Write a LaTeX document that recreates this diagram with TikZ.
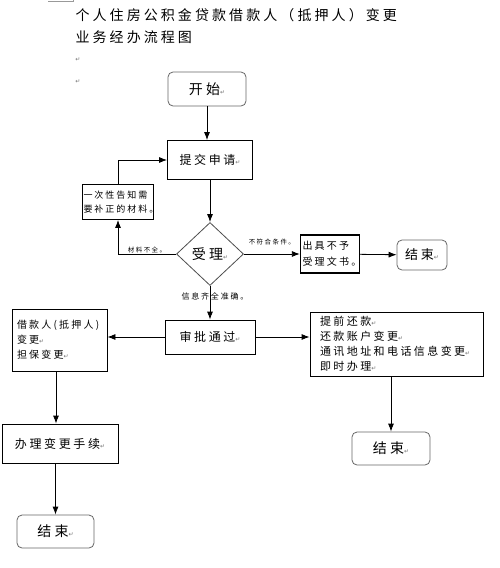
\documentclass[tikz,border=0pt]{standalone}
\usepackage{fontspec}
\setmainfont{Noto Sans CJK SC}[LetterSpace=22]
\newfontfamily\symf{DejaVu Sans}
\usetikzlibrary{shapes.geometric}
\usetikzlibrary{arrows.meta}
\tikzset{
    startnode/.style = {rectangle, rounded corners=5pt, draw=black!60, line width=0.8pt, minimum width=78pt, minimum height=34pt, font=\fontsize{14}{14}\selectfont},
    cell/.style = {rectangle, draw=black, line width=0.8pt, inner sep=2pt},
    decision/.style = {diamond, draw=black!70, line width=0.8pt, minimum width=67pt, minimum height=63pt, inner sep=0pt, font=\fontsize{14}{14}\selectfont},
    lbl/.style = {inner sep=1pt, font=\fontsize{6.5}{6.5}\selectfont},
    edgen/.style = {-{Latex[length=8pt,width=6pt]}, line width=0.8pt},
}
\newcommand{\enterm}{{\symf\fontsize{6}{6}\selectfont\color{black!55}↵}}

\begin{document}
\begin{tikzpicture}[x=1pt,y=-1pt]
\useasboundingbox (0,0) rectangle (500,568);
\draw[black!40] (48,1) -- (73,1) -- (73,0);
\node[anchor=west, font=\fontsize{14}{14}\selectfont] at (72, 15) (titlea) {个人住房公积金贷款借款人（抵押人）变更};
\node[anchor=west, font=\fontsize{14}{14}\selectfont] at (72, 37) (titleb) {业务经办流程图};
\node[inner sep=0pt] at (78, 60) (pma) {\enterm};
\node[inner sep=0pt] at (78, 82) (pmb) {\enterm};
%
\node[startnode] at (207, 89) (kaishi) {开始\enterm};
\node[cell, minimum width=85pt, minimum height=39pt, font=\fontsize{12}{12}\selectfont] at (210, 160) (tijiao) {提交申请\enterm};
\node[decision] at (210, 254) (shouli) {受理\enterm};
\node[cell, text width=69pt, inner xsep=1pt, minimum height=35pt, align=left, font=\fontsize{9}{14}\selectfont] at (118, 202) (gaozhi) {一次性告知需\\要补正的材料。};
\node[cell, line width=1.3pt, text width=55pt, inner xsep=2pt, minimum height=38pt, align=left, font=\fontsize{10}{16}\selectfont] at (330, 254) (chuju) {出具不予\\受理文书。};
\node[startnode, minimum width=50pt, minimum height=30pt, font=\fontsize{13}{13}\selectfont] at (422, 255) (jieshua) {结束\enterm};
\node[cell, minimum width=90pt, minimum height=34pt, font=\fontsize{12}{12}\selectfont] at (210, 337) (shenpi) {审批通过\enterm};
\node[cell, text width=85pt, inner xsep=5pt, minimum height=62pt, align=left, font=\fontsize{10}{15}\selectfont] at (59.5, 340) (jiekuan) {借款人(抵押人)\\变更\enterm\\担保变更\enterm};
\node[cell, text width=153pt, inner xsep=10pt, minimum height=64pt, align=left, font=\fontsize{11}{15}\selectfont] at (396.5, 344) (tiqian) {提前还款\enterm\\还款账户变更\enterm\\通讯地址和电话信息变更\enterm\\即时办理\enterm};
\node[cell, minimum width=116pt, minimum height=39pt, font=\fontsize{12}{12}\selectfont] at (60, 443.5) (banli) {办理变更手续\enterm};
\node[startnode, minimum width=77pt, minimum height=33pt] at (55.5, 531.5) (jieshub) {结束\enterm};
\node[startnode, minimum width=78pt, minimum height=33pt] at (391, 448.5) (jieshuc) {结束\enterm};
%
\draw[edgen] (kaishi.south) -- (kaishi.south |- tijiao.north);
\draw[edgen] (tijiao) -- (shouli);
\draw[edgen] (shouli.west) -| node[lbl, pos=0.25, above] {材料不全。} (gaozhi.south);
\draw[edgen] (gaozhi.north) |- (tijiao.west);
\draw[edgen] (shouli) -- node[lbl, above=8pt] {不符合条件。} (chuju);
\draw[edgen] (chuju) -- (jieshua);
\draw[edgen] (shouli) -- node[lbl, font=\fontsize{8}{8}\selectfont, pos=0.3, xshift=5pt] {信息齐全准确。} (shenpi);
\draw[edgen] (shenpi) -- (shenpi.west -| jiekuan.east);
\draw[edgen] (shenpi) -- (shenpi.east -| tiqian.west);
\draw[edgen] ([xshift=-3.5pt]jiekuan.south) -- ([xshift=-3.5pt]jiekuan.south |- banli.north);
\draw[edgen] (banli.south -| jieshub) -- (jieshub);
\draw[edgen] (tiqian.south -| jieshuc) -- (jieshuc);

\end{tikzpicture}
\end{document}
